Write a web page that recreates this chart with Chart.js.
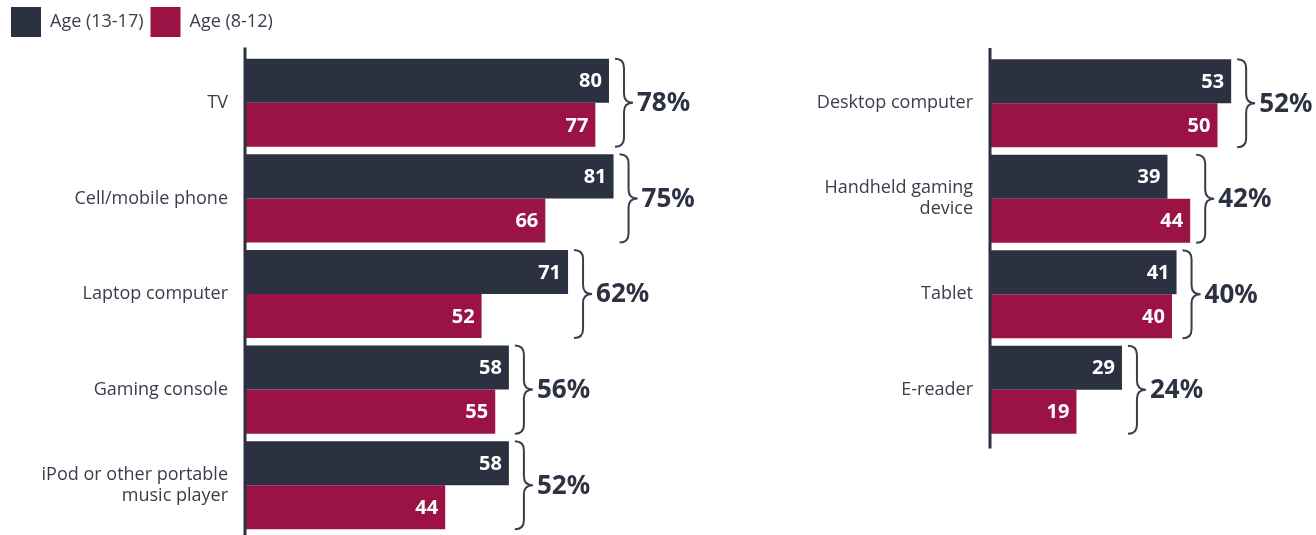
<!DOCTYPE html>
<html>
<head>
<meta charset="utf-8">
<script src="https://cdn.jsdelivr.net/npm/chart.js@4.4.1/dist/chart.umd.min.js"></script>
<style>
  html, body { margin: 0; padding: 0; background: #ffffff; }
  body { width: 1316px; height: 535px; position: relative; overflow: hidden; }
  canvas { position: absolute; top: 0; }
  #left { left: 0; }
  #right { left: 760px; }
</style>
</head>
<body>
<canvas id="left" width="760" height="535"></canvas>
<canvas id="right" width="556" height="535"></canvas>
<script>
// Device ownership by age group (%)
const leftCategories = ['TV', 'Cell/mobile phone', 'Laptop computer', 'Gaming console', ['iPod or other portable', 'music player']];
const leftTeens = [80, 81, 71, 58, 58];
const leftTweens = [77, 66, 52, 55, 44];
const leftTotals = [78, 75, 62, 56, 52];

const rightCategories = ['Desktop computer', ['Handheld gaming', 'device'], 'Tablet', 'E-reader'];
const rightTeens = [53, 39, 41, 29];
const rightTweens = [50, 44, 40, 19];
const rightTotals = [52, 42, 40, 24];

const seriesNames = ['Age (13-17)', 'Age (8-12)'];

const DARK = '#2c3141';
const RED = '#9a1344';
const TEXT = '#3a3d4b';
const LABEL_FONT = 'Open Sans';
const NUM_FONT = 'Noto Sans';

// White value labels inside the bar ends
const valueLabels = {
  id: 'valueLabels',
  afterDatasetsDraw(chart) {
    const ctx = chart.ctx;
    ctx.save();
    ctx.fillStyle = '#ffffff';
    ctx.font = 'bold 20px "' + NUM_FONT + '"';
    ctx.textAlign = 'right';
    ctx.textBaseline = 'middle';
    chart.data.datasets.forEach((ds, di) => {
      const meta = chart.getDatasetMeta(di);
      meta.data.forEach((bar, i) => {
        ctx.fillText(String(ds.data[i]), bar.x - 7, bar.y + 1);
      });
    });
    ctx.restore();
  }
};

// Curly brace with the combined share for each category
const braceTotals = {
  id: 'braceTotals',
  afterDatasetsDraw(chart, args, opts) {
    const ctx = chart.ctx;
    const a = chart.getDatasetMeta(0).data;
    const b = chart.getDatasetMeta(1).data;
    ctx.save();
    a.forEach((barA, i) => {
      const barB = b[i];
      const top = barA.y - barA.height / 2;
      const bottom = barB.y + barB.height / 2;
      const mid = (top + bottom) / 2;
      const x0 = Math.max(barA.x, barB.x) + 6;
      const m = x0 + 9;
      ctx.beginPath();
      ctx.moveTo(x0, top);
      ctx.quadraticCurveTo(m, top, m, top + 9);
      ctx.lineTo(m, mid - 9);
      ctx.quadraticCurveTo(m, mid, m + 9, mid);
      ctx.quadraticCurveTo(m, mid, m, mid + 9);
      ctx.lineTo(m, bottom - 9);
      ctx.quadraticCurveTo(m, bottom, x0, bottom);
      ctx.lineWidth = 2;
      ctx.strokeStyle = TEXT;
      ctx.stroke();
      ctx.fillStyle = '#2d3142';
      ctx.font = 'bold 26px "' + NUM_FONT + '"';
      ctx.textAlign = 'left';
      ctx.textBaseline = 'middle';
      ctx.fillText(opts.totals[i] + '%', m + 13, mid + 1);
    });
    ctx.restore();
  }
};

// Vertical axis line running a little past the bars
const axisLine = {
  id: 'axisLine',
  afterDatasetsDraw(chart) {
    const ctx = chart.ctx;
    const ca = chart.chartArea;
    ctx.save();
    ctx.strokeStyle = DARK;
    ctx.lineWidth = 3;
    ctx.beginPath();
    ctx.moveTo(ca.left, ca.top - 7.5);
    ctx.lineTo(ca.left, ca.bottom + 11);
    ctx.stroke();
    ctx.restore();
  }
};

function makeChart(id, categories, teens, tweens, totals, opt) {
  return new Chart(document.getElementById(id), {
    type: 'bar',
    data: {
      labels: categories,
      datasets: [
        { label: seriesNames[0], data: teens, backgroundColor: DARK },
        { label: seriesNames[1], data: tweens, backgroundColor: RED }
      ]
    },
    options: {
      indexAxis: 'y',
      responsive: false,
      animation: false,
      devicePixelRatio: 1,
      categoryPercentage: 88 / 95.5,
      barPercentage: 1,
      layout: { padding: opt.padding },
      scales: {
        x: {
          position: 'top',
          min: 0,
          max: opt.xMax,
          grid: { display: false, drawTicks: false },
          border: { display: false },
          ticks: { display: false },
          afterFit(s) { s.height = opt.xHeight; }
        },
        y: {
          grid: { display: false, drawTicks: false },
          border: { display: false },
          ticks: {
            color: TEXT,
            padding: 17,
            font: { family: LABEL_FONT, size: 18, lineHeight: 1.17 }
          },
          afterFit(s) {
            s.width = opt.yWidth;
            s.paddingTop = 0;
            s.paddingBottom = 0;
          }
        }
      },
      plugins: {
        legend: {
          display: opt.legend,
          position: 'top',
          align: 'start',
          labels: {
            boxWidth: 30,
            boxHeight: 30,
            padding: 7,
            color: TEXT,
            font: { family: LABEL_FONT, size: 18 }
          }
        },
        tooltip: { enabled: false },
        braceTotals: { totals: totals }
      }
    },
    plugins: [axisLine, valueLabels, braceTotals]
  });
}

makeChart('left', leftCategories, leftTeens, leftTweens, leftTotals, {
  padding: { left: 4, right: 60, top: 0, bottom: 2 },
  xMax: 100, xHeight: 8, yWidth: 241, legend: true
});

makeChart('right', rightCategories, rightTeens, rightTweens, rightTotals, {
  padding: { left: 0, right: 53, top: 0, bottom: 97.5 },
  xMax: 60, xHeight: 55.5, yWidth: 230, legend: false
});
</script>
</body>
</html>
